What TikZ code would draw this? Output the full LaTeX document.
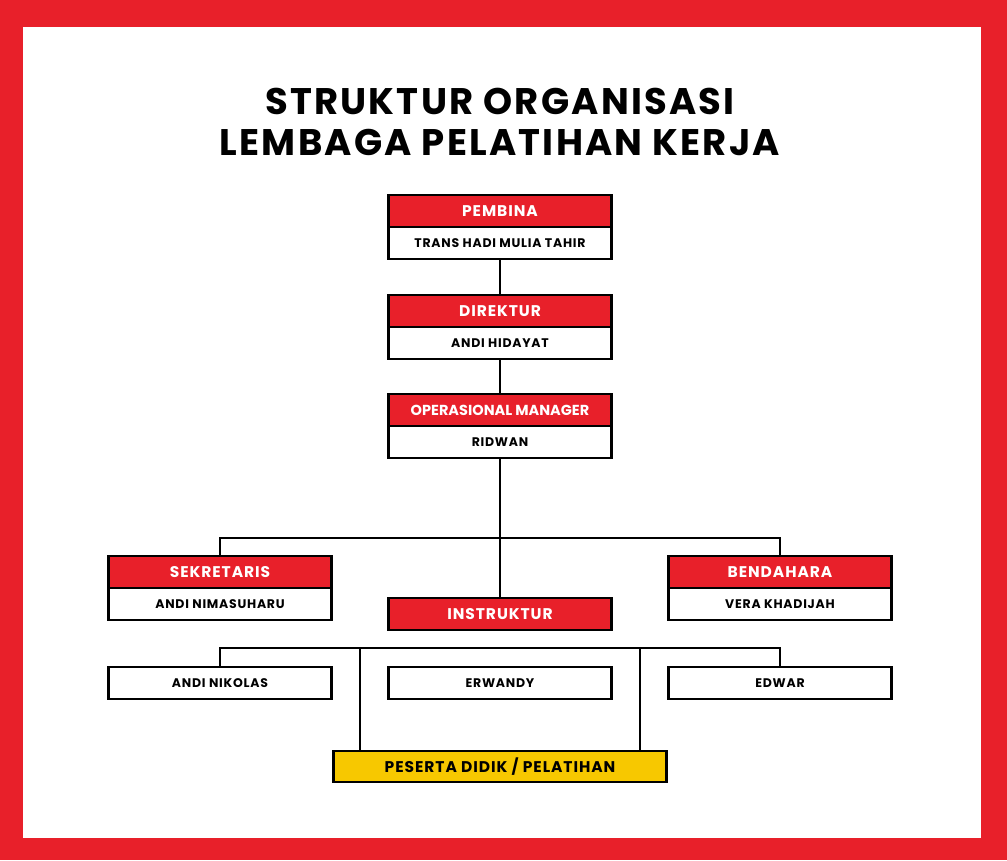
\documentclass[tikz,border=0pt]{standalone}
\usepackage{fontspec}
\setmainfont{Poppins}
\newfontfamily\spaced[LetterSpace=6]{Poppins}
\definecolor{rd}{HTML}{E8202A}
\definecolor{yl}{HTML}{F7C800}
\begin{document}
\begin{tikzpicture}[x=1pt,y=-1pt,line width=2.4pt,
 hdr/.style={draw,fill=rd,text=white,font=\spaced\fontsize{15.5}{15.5}\bfseries,minimum width=223pt,minimum height=32pt,inner sep=0pt,anchor=north},
 nm/.style={draw,fill=white,font=\spaced\fontsize{12.5}{12.5}\bfseries,minimum width=223pt,minimum height=32pt,inner sep=0pt,anchor=north},
 conn/.style={line width=2.2pt}]
\fill[rd] (0,0) rectangle (1007,860);
\fill[white] (23,27) rectangle (981,838);
\node[font=\spaced\fontsize{37}{37}\bfseries,align=center] (title) at (500,122) {STRUKTUR ORGANISASI\\[4pt]LEMBAGA PELATIHAN KERJA};
\node[nm] (pembinaN) at (500,226) {TRANS HADI MULIA TAHIR};
\node[hdr] (pembina) at (500,194) {PEMBINA};
\node[nm] (direkturN) at (500,326) {ANDI HIDAYAT};
\node[hdr] (direktur) at (500,294) {DIREKTUR};
\node[nm] (omN) at (500,425) {RIDWAN};
\node[hdr,font=\fontsize{14.5}{14.5}\bfseries] (om) at (500,393) {OPERASIONAL MANAGER};
\node[nm] (sekN) at (220,587) {ANDI NIMASUHARU};
\node[hdr] (sek) at (220,555) {SEKRETARIS};
\node[nm] (benN) at (780,587) {VERA KHADIJAH};
\node[hdr] (ben) at (780,555) {BENDAHARA};
\node[hdr] (ins) at (500,597) {INSTRUKTUR};
\node[nm] (nik) at (220,666) {ANDI NIKOLAS};
\node[nm] (erw) at (500,666) {ERWANDY};
\node[nm] (edw) at (780,666) {EDWAR};
\node[draw,fill=yl,font=\spaced\fontsize{15.5}{15.5}\bfseries,minimum width=333pt,minimum height=31pt,inner sep=0pt,anchor=north] (pes) at (500,750) {PESERTA DIDIK / PELATIHAN};
\coordinate (b1) at (500,538);
\coordinate (b2L) at (220,648);
\coordinate (b2R) at (780,648);
\draw[conn] (pembinaN.south) -- (direktur.north);
\draw[conn] (direkturN.south) -- (om.north);
\draw[conn] (omN.south) -- (ins.north);
\draw[conn] (sek.north) |- (b1) -| (ben.north);
\draw[conn] (nik.north) -- (b2L) -- (b2R) -- (edw.north);
\draw[conn] (pes.north -| 360,0) -- (360,648);
\draw[conn] (pes.north -| 640,0) -- (640,648);
\end{tikzpicture}
\end{document}
